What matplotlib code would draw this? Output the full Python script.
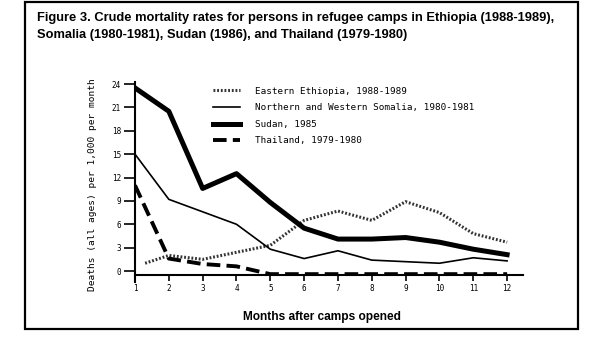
import matplotlib
matplotlib.use("Agg")
import matplotlib.pyplot as plt
from matplotlib.patches import Rectangle

# Data (deaths per 1,000 per month)
months = [1, 2, 3, 4, 5, 6, 7, 8, 9, 10, 11, 12]
ethiopia_months = [1.3, 2, 3, 4, 5, 6, 7, 8, 9, 10, 11, 12]
ethiopia = [1.0, 2.0, 1.5, 2.4, 3.3, 6.5, 7.7, 6.5, 8.9, 7.5, 4.8, 3.7]
somalia = [15.0, 9.2, 7.6, 6.0, 2.8, 1.6, 2.6, 1.4, 1.2, 1.0, 1.7, 1.3]
sudan = [23.5, 20.5, 10.6, 12.5, 8.8, 5.5, 4.1, 4.1, 4.3, 3.7, 2.8, 2.1]
thailand = [11.0, 1.6, 0.9, 0.6, -0.4, -0.4, -0.4, -0.4, -0.4, -0.4, -0.4, -0.4]

yticks = [0, 3, 6, 9, 12, 15, 18, 21, 24]
labels = ["Eastern Ethiopia, 1988-1989",
          "Northern and Western Somalia, 1980-1981",
          "Sudan, 1985",
          "Thailand, 1979-1980"]

mono = "DejaVu Sans Mono"
title_font = "Liberation Sans"

fig = plt.figure(figsize=(6.01, 3.46), dpi=100)

# outer frame
fig.add_artist(Rectangle((25 / 601, 1 - 329 / 346), 553 / 601, 327 / 346,
                         transform=fig.transFigure, fill=False,
                         edgecolor="black", linewidth=1.6))

fig.text(37 / 601, 1 - 21 / 346,
         "Figure 3. Crude mortality rates for persons in refugee camps in Ethiopia (1988-1989),",
         family=title_font, fontweight="bold", fontsize=9.25, va="baseline")
fig.text(37 / 601, 1 - 38 / 346,
         "Somalia (1980-1981), Sudan (1986), and Thailand (1979-1980)",
         family=title_font, fontweight="bold", fontsize=9.25, va="baseline")

ax = fig.add_axes([135 / 601, 1 - 275 / 346, 388 / 601, 193 / 346])

ax.plot(ethiopia_months, ethiopia, color="#333333", linewidth=2.2,
        linestyle=(0, (0.6, 0.6)), label=labels[0])
ax.plot(months, somalia, color="black", linewidth=1.2, label=labels[1])
ax.plot(months, sudan, color="black", linewidth=3.6, label=labels[2])
ax.plot(months, thailand, color="black", linewidth=2.8,
        linestyle=(0, (3.5, 1.6)), label=labels[3])

ax.set_xlim(1, 12.47)
ax.set_ylim(-0.51, 24.26)
ax.set_xticks(months)
ax.set_yticks(yticks)
ax.set_xticklabels([str(m) for m in months], family=mono, fontsize=5.5)
ax.set_yticklabels([str(v) for v in yticks], family=mono, fontsize=5.5)
ax.tick_params(axis="x", direction="out", length=4.5, width=1.2, pad=2)
ax.tick_params(axis="y", direction="out", length=8, width=1.2, pad=2)
for s in ["top", "right"]:
    ax.spines[s].set_visible(False)
ax.spines["left"].set_linewidth(1.5)
ax.spines["bottom"].set_linewidth(1.5)
ax.spines["left"].set_bounds(-1.4, 24.26)

ax.set_ylabel("Deaths (all ages) per 1,000 per month", family=mono,
              fontsize=6.8)
ax.yaxis.set_label_coords(-0.099, 0.47)

ax.legend(loc="upper left", bbox_to_anchor=(0.18, 1.02), frameon=False,
          prop={"family": mono, "size": 6.7}, handlelength=2.9,
          handletextpad=1.6, labelspacing=0.82)

fig.text(322 / 601, 1 - 317 / 346, "Months after camps opened",
         family="Liberation Sans", fontweight="bold", fontsize=8.6,
         ha="center", va="center")

fig.savefig("out.png", dpi=100)
